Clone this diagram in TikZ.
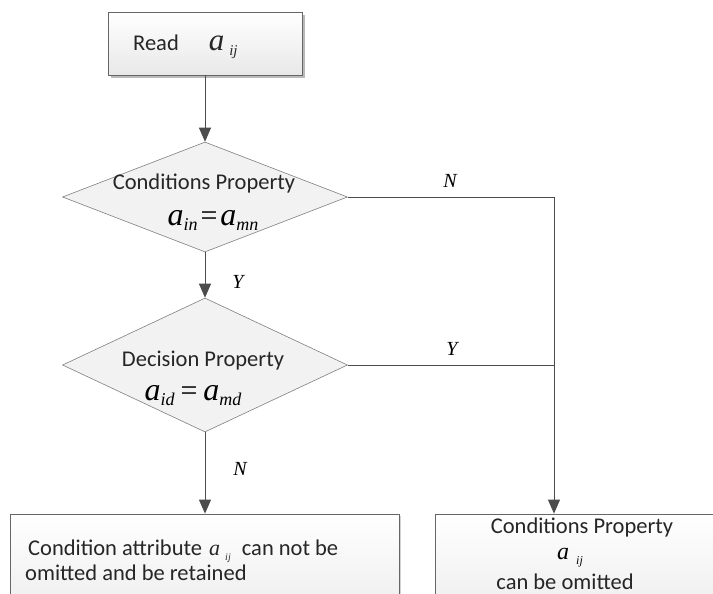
\documentclass[tikz,border=0pt]{standalone}
\usepackage{fontspec}
\setmainfont{Carlito}
\newfontfamily\tms{Liberation Serif}
\usetikzlibrary{shapes.geometric,arrows.meta,shadows}
\newcommand{\fs}[1]{\fontsize{#1}{#1}\selectfont}
\newcommand{\va}[4]{{\fs{#1}\tms\itshape a}\hspace{#4}\raisebox{-5pt}{\fs{#2}\tms\itshape #3}}
\tikzset{
  box/.style={draw=black!60, line width=0.8pt, top color=white, bottom color=black!9, inner sep=0pt},
  dia/.style={diamond, draw=black!50, line width=0.6pt, fill=black!5, inner sep=0pt, aspect=2.5},
  txt/.style={inner sep=0pt, font=\fs{22.5}, text=black!85},
  yn/.style={inner sep=0pt, font=\fs{20}\tms\itshape},
  ln/.style={draw=black!70, line width=0.9pt},
  arr/.style={ln, -{Triangle[width=12pt,length=14pt]}}
}
\begin{document}
\begin{tikzpicture}[x=1pt,y=-1pt]
\useasboundingbox (0,0) rectangle (713,594);
\clip (0,0) rectangle (713,594);
\fill[white] (0,0) rectangle (713,594);

% top box
\node[box, minimum width=194pt, minimum height=63pt,
      drop shadow={shadow xshift=3pt, shadow yshift=-3pt, fill=black!45, opacity=0.6}]
      (read) at (205,43.5) {};
\node[txt, anchor=base west] (readt) at (133,51) {Read\hspace{30pt}\va{31}{15}{ij}{5pt}};

% diamond 1
\node[dia, minimum width=285pt, minimum height=110pt] (d1) at (205,197) {};
\node[txt] (d1a) at (204,184) {Conditions Property};
\node[inner sep=0pt] (d1b) at (213,220) {\va{32}{18}{in}{0pt}\hspace{3pt}{\fs{30}\tms=}\hspace{3pt}\va{32}{18}{mn}{0pt}};

% diamond 2
\node[dia, minimum width=285pt, minimum height=134pt] (d2) at (205,365) {};
\node[txt] (d2a) at (203,361) {Decision Property};
\node[inner sep=0pt] (d2b) at (193,396) {\va{32}{18}{id}{0pt}\hspace{6pt}{\fs{30}\tms=}\hspace{6pt}\va{32}{18}{md}{0pt}};

% bottom boxes
\node[box, minimum width=389pt, minimum height=130pt,
      drop shadow={shadow xshift=2pt, shadow yshift=-2pt, fill=black!35, opacity=0.5}]
      (lbox) at (204.5,579) {};
\node[txt, anchor=base west] (l1) at (28,555) {Condition attribute \hspace{2pt}\va{22}{10}{ij}{5pt}\hspace{6pt} can not be};
\node[txt, anchor=base west] (l2) at (25,580) {omitted and be retained};

\node[box, minimum width=320pt, minimum height=130pt] (rbox) at (595,579) {};
\node[txt] (r1) at (582,527) {Conditions Property};
\node[inner sep=0pt] (r2) at (570,558) {\va{24}{12}{ij}{7pt}};
\node[txt] (r3) at (565,582) {can be omitted};

% connectors
\coordinate (j1) at (554,197);
\coordinate (j2) at (554,365);
\draw[arr] (read.south) -- (d1.north);
\draw[arr] (d1.south) -- (d2.north);
\draw[arr] (d2.south) -- (d2.south |- lbox.north);
\draw[ln] (d1.east) -- (j1);
\draw[ln] (d2.east) -- (j2);
\draw[arr] (j1) -- (j1 |- rbox.north);

% labels
\node[yn] (ln1) at (450,181) {N};
\node[yn] (ly1) at (452,349) {Y};
\node[yn] (ly2) at (238,282) {Y};
\node[yn] (ln2) at (240,469) {N};
\end{tikzpicture}
\end{document}
